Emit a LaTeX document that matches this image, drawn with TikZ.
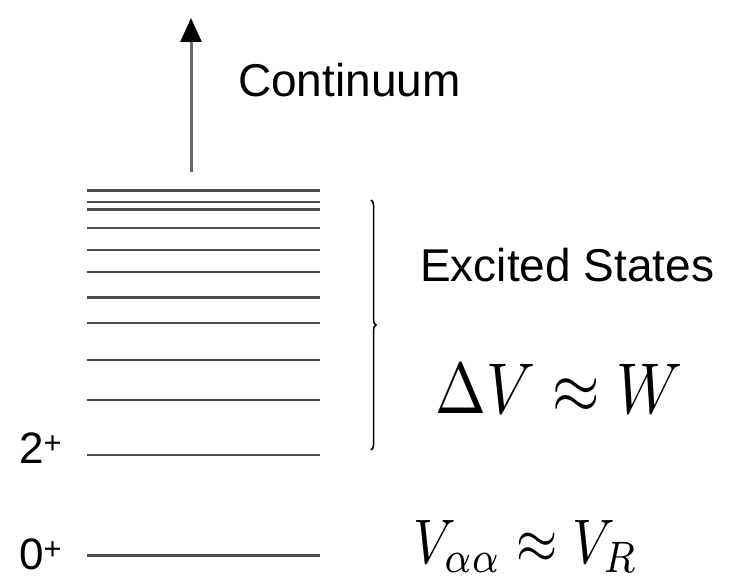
\documentclass[tikz,border=0pt]{standalone}
\usepackage{fontspec}
\setmainfont{Liberation Sans}
\usetikzlibrary{arrows.meta,decorations.pathreplacing}
\begin{document}
\begin{tikzpicture}[x=1pt,y=-1pt,
  level/.style={line width=2.8pt,draw=black!70},
  lbl/.style={inner sep=0pt,anchor=base west,font=\fontsize{46}{50}\selectfont},
  slbl/.style={inner sep=0pt,anchor=base west,font=\fontsize{44}{48}\selectfont},
  mth/.style={inner sep=0pt,anchor=base west}]
\useasboundingbox (0,0) rectangle (742,580);
% levels
\foreach \y [count=\i] in {190.7,202,209.3,228,250,272,297.3,323,360,400,455,555.7}{
  \coordinate (l\i w) at (87,\y);
  \coordinate (l\i e) at (320,\y);
  \draw[level] (l\i w) -- (l\i e);
}
% arrow
\coordinate (atail) at (191,172);
\coordinate (ahead) at (191,18);
\draw[line width=3pt,draw=black!58,-{Triangle[width=21pt,length=24pt,fill=black,color=black]}] (atail) -- (ahead);
\node[lbl] (cont) at (238,97) {Continuum};
% brace
\coordinate (btop) at (371,200);
\coordinate (bbot) at (371,450);
\draw[line width=1.5pt,decorate,decoration={brace,amplitude=5pt}] (btop) -- (bbot);
\node[lbl] (exc) at (420,282) {Excited States};
\node[mth] (dv) at (435,413) {\scalebox{6.1}[7.2]{$\Delta V \approx W$}};
\node[mth] (va) at (413,563) {\scalebox{5.3}[6.3]{$V_{\alpha\alpha} \approx V_R$}};
\node[slbl] (two) at (19,463) {2\textsuperscript{+}};
\node[slbl] (zero) at (19,569) {0\textsuperscript{+}};
\end{tikzpicture}
\end{document}
